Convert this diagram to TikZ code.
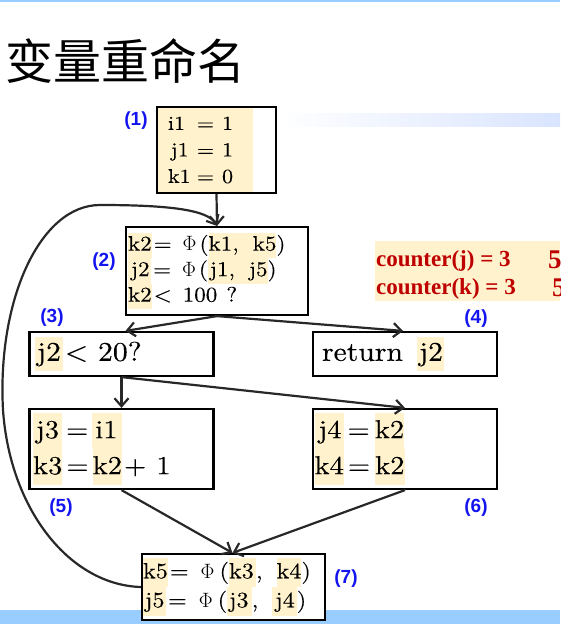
\documentclass[tikz,border=0pt]{standalone}
\usepackage{fontspec}
\newfontfamily\cjk{Noto Sans CJK SC}
\newfontfamily\lsans{Liberation Sans}
\newfontfamily\lserif{Liberation Serif}
\newfontfamily\codefont{lmroman10-regular.otf}[FakeStretch=1.1,FakeBold=0.3]
\usetikzlibrary{arrows.meta}
\definecolor{hlc}{RGB}{255,242,204}
\definecolor{barblue}{RGB}{153,204,255}
\definecolor{lblblue}{RGB}{20,20,240}
\definecolor{cred}{RGB}{190,0,0}
\definecolor{edgec}{RGB}{40,40,40}
\definecolor{bandblue}{RGB}{217,228,255}
\newcommand{\hl}[1]{{\setlength{\fboxsep}{0pt}\colorbox{hlc}{\strut #1}}}
\newcommand{\hs}[1]{\hspace{#1pt}}
\tikzset{
  box/.style={draw=black, line width=2.2pt, align=left, inner ysep=0pt, anchor=center},
  lbl/.style={font=\lsans\bfseries\fontsize{19}{19}\selectfont, text=lblblue, inner sep=0pt},
  conn/.style={draw=edgec, line width=2.2pt, -{Straight Barb[length=8pt,width=14pt,line width=2.2pt]}},
  ctext/.style={font=\lserif\bfseries\fontsize{23}{23}\selectfont, text=cred, inner sep=0pt, anchor=base west}
}
\begin{document}
\begin{tikzpicture}[x=1pt,y=-1pt]
\useasboundingbox (0,0) rectangle (560,624);
% top line and footer bar
\fill[barblue] (0,0) rectangle (560,2);
\fill[barblue] (0,610) rectangle (560,624);
\shade[left color=white, right color=bandblue] (280,113) rectangle (560,126);
% title
\node[font=\cjk\fontsize{48}{48}\selectfont, anchor=west, inner sep=0pt] (title) at (5,61) {变量重命名};
% counter box
\fill[hlc] (375,241) rectangle (560,301);
\node[ctext] (cj) at (376,266) {counter(j) = 3};
\node[ctext] (ck) at (376,294) {counter(k) = 3};
\node[ctext, font=\lserif\bfseries\fontsize{27}{27}\selectfont] (fj) at (548,268) {5};
\node[ctext, font=\lserif\bfseries\fontsize{27}{27}\selectfont] (fk) at (552,296) {5};
% box 1
\fill[hlc] (157,107) rectangle (253,193);
\node[box, font=\codefont\fontsize{20}{26.5}\selectfont, inner xsep=11pt, text width=97pt, minimum height=86pt] (b1) at (216.5,150)
  {\makebox[29pt][l]{i1}=\hs{8}1\\\makebox[29pt][l]{\hs{3}j1}=\hs{8}1\\\makebox[29pt][l]{k1}=\hs{8}0};
% box 2
\node[box, font=\codefont\fontsize{21}{25.5}\selectfont, inner xsep=2pt, text width=178pt, minimum height=88pt] (b2) at (217,271)
  {\hl{k2}\hs{2}=\hs{11}$\Phi$\hs{3}(\hl{k1,\hs{14}k5})\\\hl{\hs{3}j2\hs{1.5}}\hs{2}=\hs{11}$\Phi$\hs{3}(\hl{\hs{2}j1,\hs{14}j5})\\\hl{k2}\hs{2}<\hs{11}100\hs{9}?};
% box 3 and 4
\node[box, font=\codefont\fontsize{27}{34}\selectfont, inner xsep=5.5pt, text width=173pt, minimum height=44pt] (b3) at (121.5,354)
  {\hl{\hs{2}j2\hs{2}}\hs{2}<\hs{10}20?};
\node[box, font=\codefont\fontsize{27}{34}\selectfont, inner xsep=9pt, text width=166pt, minimum height=44pt] (b4) at (405,354)
  {return\hs{14}\hl{\hs{2}j2\hs{1}}};
% box 5 and 6
\node[box, font=\codefont\fontsize{26}{36}\selectfont, inner xsep=3.5pt, text width=177pt, minimum height=80pt] (b5) at (121.5,449)
  {\hl{\hs{3}j3\hs{3}}\hs{4}=\hs{4}\hl{\hs{3}i1\hs{4}}\\\hl{k3}\hs{4}=\hs{4}\hl{k2}\hs{2}+\hs{10}1};
\node[box, font=\codefont\fontsize{26}{36}\selectfont, inner xsep=1.5pt, text width=181pt, minimum height=80pt] (b6) at (405,449)
  {\hl{\hs{4}j4\hs{2}}\hs{4}=\hs{5}\hl{k2}\\\hl{k4}\hs{4}=\hs{5}\hl{k2}};
% box 7
\node[box, fill=white, font=\codefont\fontsize{22}{29}\selectfont, inner xsep=1pt, text width=181pt, minimum height=66pt] (b7) at (233.5,587)
  {\hl{k5}\hs{2}=\hs{12}$\Phi$\hs{5}(\hl{k3\hs{2}},\hs{14}\hl{k4})\\\hl{\hs{2}j5\hs{1.5}}\hs{2}=\hs{12}$\Phi$\hs{5}(\hl{\hs{2}j3\hs{3}},\hs{14}\hl{\hs{3}j4\hs{2}})};
% labels
\node[lbl] (l1) at (136,121) {(1)};
\node[lbl] (l2) at (104,262) {(2)};
\node[lbl] (l3) at (52,318) {(3)};
\node[lbl] (l4) at (476,319) {(4)};
\node[lbl] (l5) at (61,508) {(5)};
\node[lbl] (l6) at (476,508) {(6)};
\node[lbl] (l7) at (346,579) {(7)};
% connectors
\draw[conn] (b1.south) -- (b2.north);
\draw[conn] (b2.south) -- ([xshift=4pt]b3.north);
\draw[conn] (b2.south) -- ([xshift=-2pt]b4.north);
\draw[conn] (b3.south) -- (b5.north);
\draw[conn] (b3.south) -- (b6.north);
\draw[conn] (b5.south) -- ([xshift=-1pt]b7.north);
\draw[conn] (b6.south) -- ([xshift=-1pt]b7.north);
\draw[conn] (b7.west) .. controls (70,585) and (10,510) .. (3,410)
  .. controls (-3,300) and (40,205) .. (100,205)
  .. controls (170,205) and (208,210) .. (b2.north);
\end{tikzpicture}
\end{document}
